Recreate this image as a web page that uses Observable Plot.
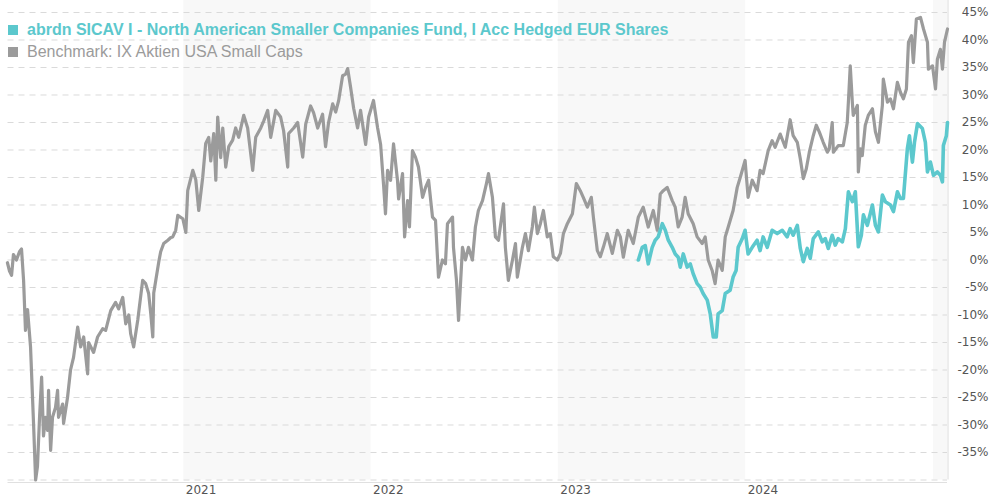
<!DOCTYPE html>
<html>
<head>
<meta charset="utf-8">
<script src="https://cdn.jsdelivr.net/npm/d3@7"></script>
<script src="https://cdn.jsdelivr.net/npm/@observablehq/plot@0.6"></script>
<style>
  html, body { margin: 0; padding: 0; background: #fff; }
  #wrap { position: relative; width: 990px; height: 500px; }
  #legend { position: absolute; left: 8px; top: 19px; font-family: "Liberation Sans", Arial, sans-serif; font-size: 16px; pointer-events: none; }
  .row { display: flex; align-items: center; height: 22px; white-space: nowrap; }
  .sq { width: 10px; height: 10px; margin-right: 9px; flex: none; }
</style>
</head>
<body>
<div id="wrap">
  <div id="chart"></div>
  <div id="legend"></div>
</div>
<script>
// Series names and colours
const seriesNames = ["abrdn SICAV I - North American Smaller Companies Fund, I Acc Hedged EUR Shares", "Benchmark: IX Aktien USA Small Caps"];
const seriesColors = ["#5cc8cd", "#9b9b9b"];

// Benchmark: time as decimal year, value in %
const benchT = [2020.061,2020.072,2020.083,2020.093,2020.109,2020.125,2020.136,2020.147,2020.157,2020.168,2020.184,2020.200,2020.211,2020.221,2020.232,2020.243,2020.253,2020.264,2020.275,2020.280,2020.291,2020.301,2020.317,2020.328,2020.333,2020.355,2020.360,2020.381,2020.397,2020.413,2020.435,2020.451,2020.467,2020.488,2020.493,2020.520,2020.541,2020.568,2020.584,2020.611,2020.637,2020.653,2020.675,2020.691,2020.707,2020.717,2020.733,2020.755,2020.781,2020.797,2020.813,2020.824,2020.835,2020.840,2020.851,2020.867,2020.877,2020.893,2020.915,2020.931,2020.941,2020.957,2020.968,2020.995,2021.011,2021.021,2021.048,2021.064,2021.080,2021.101,2021.117,2021.133,2021.144,2021.160,2021.171,2021.181,2021.197,2021.208,2021.224,2021.240,2021.261,2021.277,2021.293,2021.320,2021.341,2021.368,2021.384,2021.411,2021.427,2021.448,2021.464,2021.491,2021.517,2021.533,2021.555,2021.560,2021.587,2021.608,2021.635,2021.651,2021.677,2021.693,2021.715,2021.741,2021.757,2021.773,2021.795,2021.811,2021.827,2021.848,2021.864,2021.875,2021.891,2021.907,2021.928,2021.944,2021.971,2021.987,2022.013,2022.035,2022.051,2022.067,2022.077,2022.088,2022.104,2022.120,2022.141,2022.147,2022.168,2022.179,2022.195,2022.205,2022.221,2022.237,2022.253,2022.275,2022.291,2022.307,2022.328,2022.344,2022.360,2022.381,2022.397,2022.408,2022.435,2022.440,2022.456,2022.467,2022.488,2022.504,2022.520,2022.541,2022.557,2022.573,2022.595,2022.616,2022.627,2022.648,2022.664,2022.680,2022.707,2022.717,2022.733,2022.755,2022.771,2022.781,2022.808,2022.824,2022.840,2022.861,2022.872,2022.888,2022.904,2022.920,2022.941,2022.957,2022.973,2022.995,2023.011,2023.027,2023.048,2023.075,2023.096,2023.117,2023.133,2023.155,2023.176,2023.187,2023.208,2023.224,2023.240,2023.261,2023.288,2023.315,2023.331,2023.347,2023.373,2023.400,2023.427,2023.453,2023.480,2023.507,2023.528,2023.544,2023.560,2023.581,2023.608,2023.624,2023.640,2023.661,2023.677,2023.693,2023.720,2023.741,2023.768,2023.784,2023.800,2023.821,2023.837,2023.853,2023.875,2023.891,2023.907,2023.933,2023.955,2023.971,2023.997,2024.013,2024.035,2024.061,2024.077,2024.093,2024.120,2024.141,2024.157,2024.184,2024.211,2024.237,2024.253,2024.275,2024.291,2024.307,2024.323,2024.339,2024.360,2024.376,2024.392,2024.413,2024.435,2024.445,2024.461,2024.467,2024.493,2024.520,2024.541,2024.547,2024.557,2024.568,2024.573,2024.595,2024.600,2024.611,2024.621,2024.637,2024.653,2024.675,2024.691,2024.707,2024.728,2024.733,2024.755,2024.771,2024.787,2024.808,2024.824,2024.840,2024.856,2024.867,2024.883,2024.893,2024.909,2024.931,2024.947,2024.968,2024.973,2024.995,2025.011,2025.021,2025.037,2025.048,2025.059,2025.075];
const benchV = [-0.5,-2,-2.8,1,0,1.5,2,-3.7,-12.8,-9,-15.8,-29.7,-40,-37.5,-28.6,-21.3,-32,-28.6,-31,-23.7,-34.6,-28.6,-26.8,-23.7,-28.6,-26.2,-29.7,-25,-20,-17.7,-12.2,-15.8,-14,-20.7,-15,-16.8,-14,-12.5,-12.8,-9.2,-7.7,-8.9,-6.8,-11.6,-10,-13.4,-15.8,-10.9,-3.7,-4.3,-6.1,-9.7,-14,-6,-3.7,-0.3,1.5,3,3.6,4.1,4.2,5.4,8.1,7.5,5,12.6,16.3,14.6,9,15,21.2,22.3,18,23,14.5,26,18.6,24,16.9,20.6,21.8,24,22.3,26.3,24,16.3,22.3,24,25.3,27.2,22.3,27.2,26,23.5,16.9,23,24,25,18.7,24.7,28,26.8,24,26.5,20.6,25,28.4,26.9,29,33.5,33.8,34.8,31.3,27.6,24,27.2,21,26,29,24,21,13.5,8.4,16.3,14.5,21.1,14.5,11.1,15.7,4.2,10.8,6,19.9,18.7,16.9,11.4,13.2,14.5,7.8,7.2,-3.1,0,-0.7,6.6,7.8,2.3,-3.7,-11,2.3,0,2.3,0,6,9,10.8,13.9,15.7,11.4,4.2,3.6,10.2,2.3,-3.7,0,3,-3.1,2.3,4.8,1.7,6,9.6,4.8,6.6,9,4.2,4.8,0.6,0,1.2,4.8,6.6,8.4,13.9,12.6,11.4,9.6,11.4,7.8,1.7,0.6,2.3,4.8,1.2,5.4,4.2,0.5,5.4,3,7.8,9.6,6,9,5.4,12,12.6,13.2,10.8,9.6,6,7.8,11.4,8.4,6.6,4.2,3,4.2,0,-1.9,-4.3,0,-1.9,4.2,6,9,13.2,15,18.1,11.4,14.5,12.6,16.3,15.7,19.9,21.7,20.5,22.9,20.5,25.5,22.6,21.4,18.4,14.8,16.6,19.6,22.6,24.5,23.3,21.4,19.6,20.2,25,19.6,20.8,20.8,25,28.7,35.3,28.7,26.3,28.1,16,20.2,19,24.5,26.3,27.5,23.3,21.4,28.1,32.9,28.7,29.3,27.5,32.3,30.5,29.3,31.1,39.6,40.8,35.9,43.8,44.1,42,39.6,34.7,35.3,31.1,36.5,38.3,34.7,39.6,42];

// Fund: time as decimal year, value in %
const fundT = [2023.427,2023.448,2023.464,2023.480,2023.501,2023.517,2023.533,2023.555,2023.571,2023.587,2023.608,2023.624,2023.640,2023.651,2023.667,2023.688,2023.704,2023.720,2023.741,2023.757,2023.773,2023.795,2023.811,2023.827,2023.843,2023.853,2023.875,2023.891,2023.917,2023.933,2023.949,2023.960,2023.981,2023.997,2024.013,2024.035,2024.061,2024.077,2024.093,2024.115,2024.141,2024.168,2024.195,2024.221,2024.237,2024.253,2024.275,2024.291,2024.307,2024.328,2024.344,2024.360,2024.387,2024.408,2024.424,2024.440,2024.461,2024.477,2024.493,2024.515,2024.531,2024.547,2024.568,2024.584,2024.600,2024.616,2024.627,2024.648,2024.675,2024.691,2024.707,2024.728,2024.744,2024.771,2024.787,2024.808,2024.824,2024.840,2024.861,2024.872,2024.888,2024.899,2024.915,2024.941,2024.957,2024.968,2024.984,2025.000,2025.021,2025.037,2025.048,2025.053,2025.069,2025.075];
const fundV = [0,2.3,2.6,-0.7,2.3,3.6,4.2,6.6,5.4,3.6,2.3,1.1,0.5,-1.3,1.1,-1.3,-0.7,-2.5,-4.3,-4.9,-6.1,-7.3,-9.8,-14,-14,-9.8,-9.2,-6.1,-5.5,-3.1,-1.9,2.3,3.8,5.4,1.1,2.3,3.6,1.7,4.2,2.3,5.4,4.8,5.4,4.2,5.7,4.5,6.3,2.1,-0.3,2.1,0.3,3.9,5.1,3.3,3.9,2.1,4.5,2.7,3.9,3.3,5.7,12.4,10.6,12.4,2.4,4.5,8.2,6.3,10,6.3,5.1,11.8,10.6,10,8.8,12.4,11.2,11.2,20.2,22.6,17.8,21.4,24.8,23.9,21.4,16,17.8,15.4,16,15.4,14.2,20.8,22.6,25];

// Axes
const xDomainYears = [2020.064, 2025.075];
const xTickYears = [2021, 2022, 2023, 2024];
const yDomain = [-40, 47.18];
const yGrid = [-40,-35,-30,-25,-20,-15,-10,-5,0,5,10,15,20,25,30,35,40,45];
const yLabels = [-35,-30,-25,-20,-15,-10,-5,0,5,10,15,20,25,30,35,40,45];
// Shaded year bands (start, end as decimal years)
const bandStart = [2021, 2023, 2025];
const bandEnd = [2022, 2024, 2025.075];

function toDate(t) {
  const y = Math.floor(t);
  const s = Date.UTC(y, 0, 1), e = Date.UTC(y + 1, 0, 1);
  return new Date(s + (t - y) * (e - s));
}

const bench = benchT.map((t, i) => ({date: toDate(t), value: benchV[i]}));
const fund = fundT.map((t, i) => ({date: toDate(t), value: fundV[i]}));
const bands = bandStart.map((s, i) => ({x1: toDate(s), x2: toDate(bandEnd[i])}));
const xDomain = xDomainYears.map(toDate);
const xTicks = xTickYears.map(toDate);

const chart = Plot.plot({
  width: 990,
  height: 500,
  marginLeft: 7.5,
  marginRight: 43,
  marginTop: 0,
  marginBottom: 20.5,
  style: {fontFamily: "DejaVu Sans, sans-serif", fontSize: "12px", color: "#555", background: "#fff"},
  x: {type: "utc", domain: xDomain},
  y: {domain: yDomain},
  marks: [
    Plot.rect(bands, {x1: "x1", x2: "x2", fill: "#f8f8f8"}),
    Plot.ruleY(yGrid, {stroke: "#dadada", strokeDasharray: "6,5", strokeWidth: 1}),
    Plot.ruleY([-40], {stroke: "#e0e0e0", dy: 2.5}),
    Plot.ruleX([xDomain[1]], {stroke: "#dcdcdc", dx: 0.5}),
    Plot.line(bench, {x: "date", y: "value", stroke: seriesColors[1], strokeWidth: 3.2, strokeLinejoin: "round"}),
    Plot.line(fund, {x: "date", y: "value", stroke: seriesColors[0], strokeWidth: 3.6, strokeLinejoin: "round"}),
    Plot.axisY(yLabels, {anchor: "right", tickSize: 0, tickPadding: 41, textAnchor: "end", tickFormat: d => d + "%", fill: "#555", label: null}),
    Plot.axisX(xTicks, {anchor: "bottom", tickSize: 0, tickPadding: 5, textAnchor: "start", dx: 2, tickFormat: d => String(d.getUTCFullYear()), fill: "#555", label: null})
  ]
});
document.getElementById("chart").appendChild(chart);

const legend = document.getElementById("legend");
seriesNames.forEach((name, i) => {
  const row = document.createElement("div");
  row.className = "row";
  const sq = document.createElement("span");
  sq.className = "sq";
  sq.style.background = seriesColors[i];
  const tx = document.createElement("span");
  tx.textContent = name;
  tx.style.color = seriesColors[i];
  if (i === 0) tx.style.fontWeight = "bold";
  row.appendChild(sq);
  row.appendChild(tx);
  legend.appendChild(row);
});
</script>
</body>
</html>
